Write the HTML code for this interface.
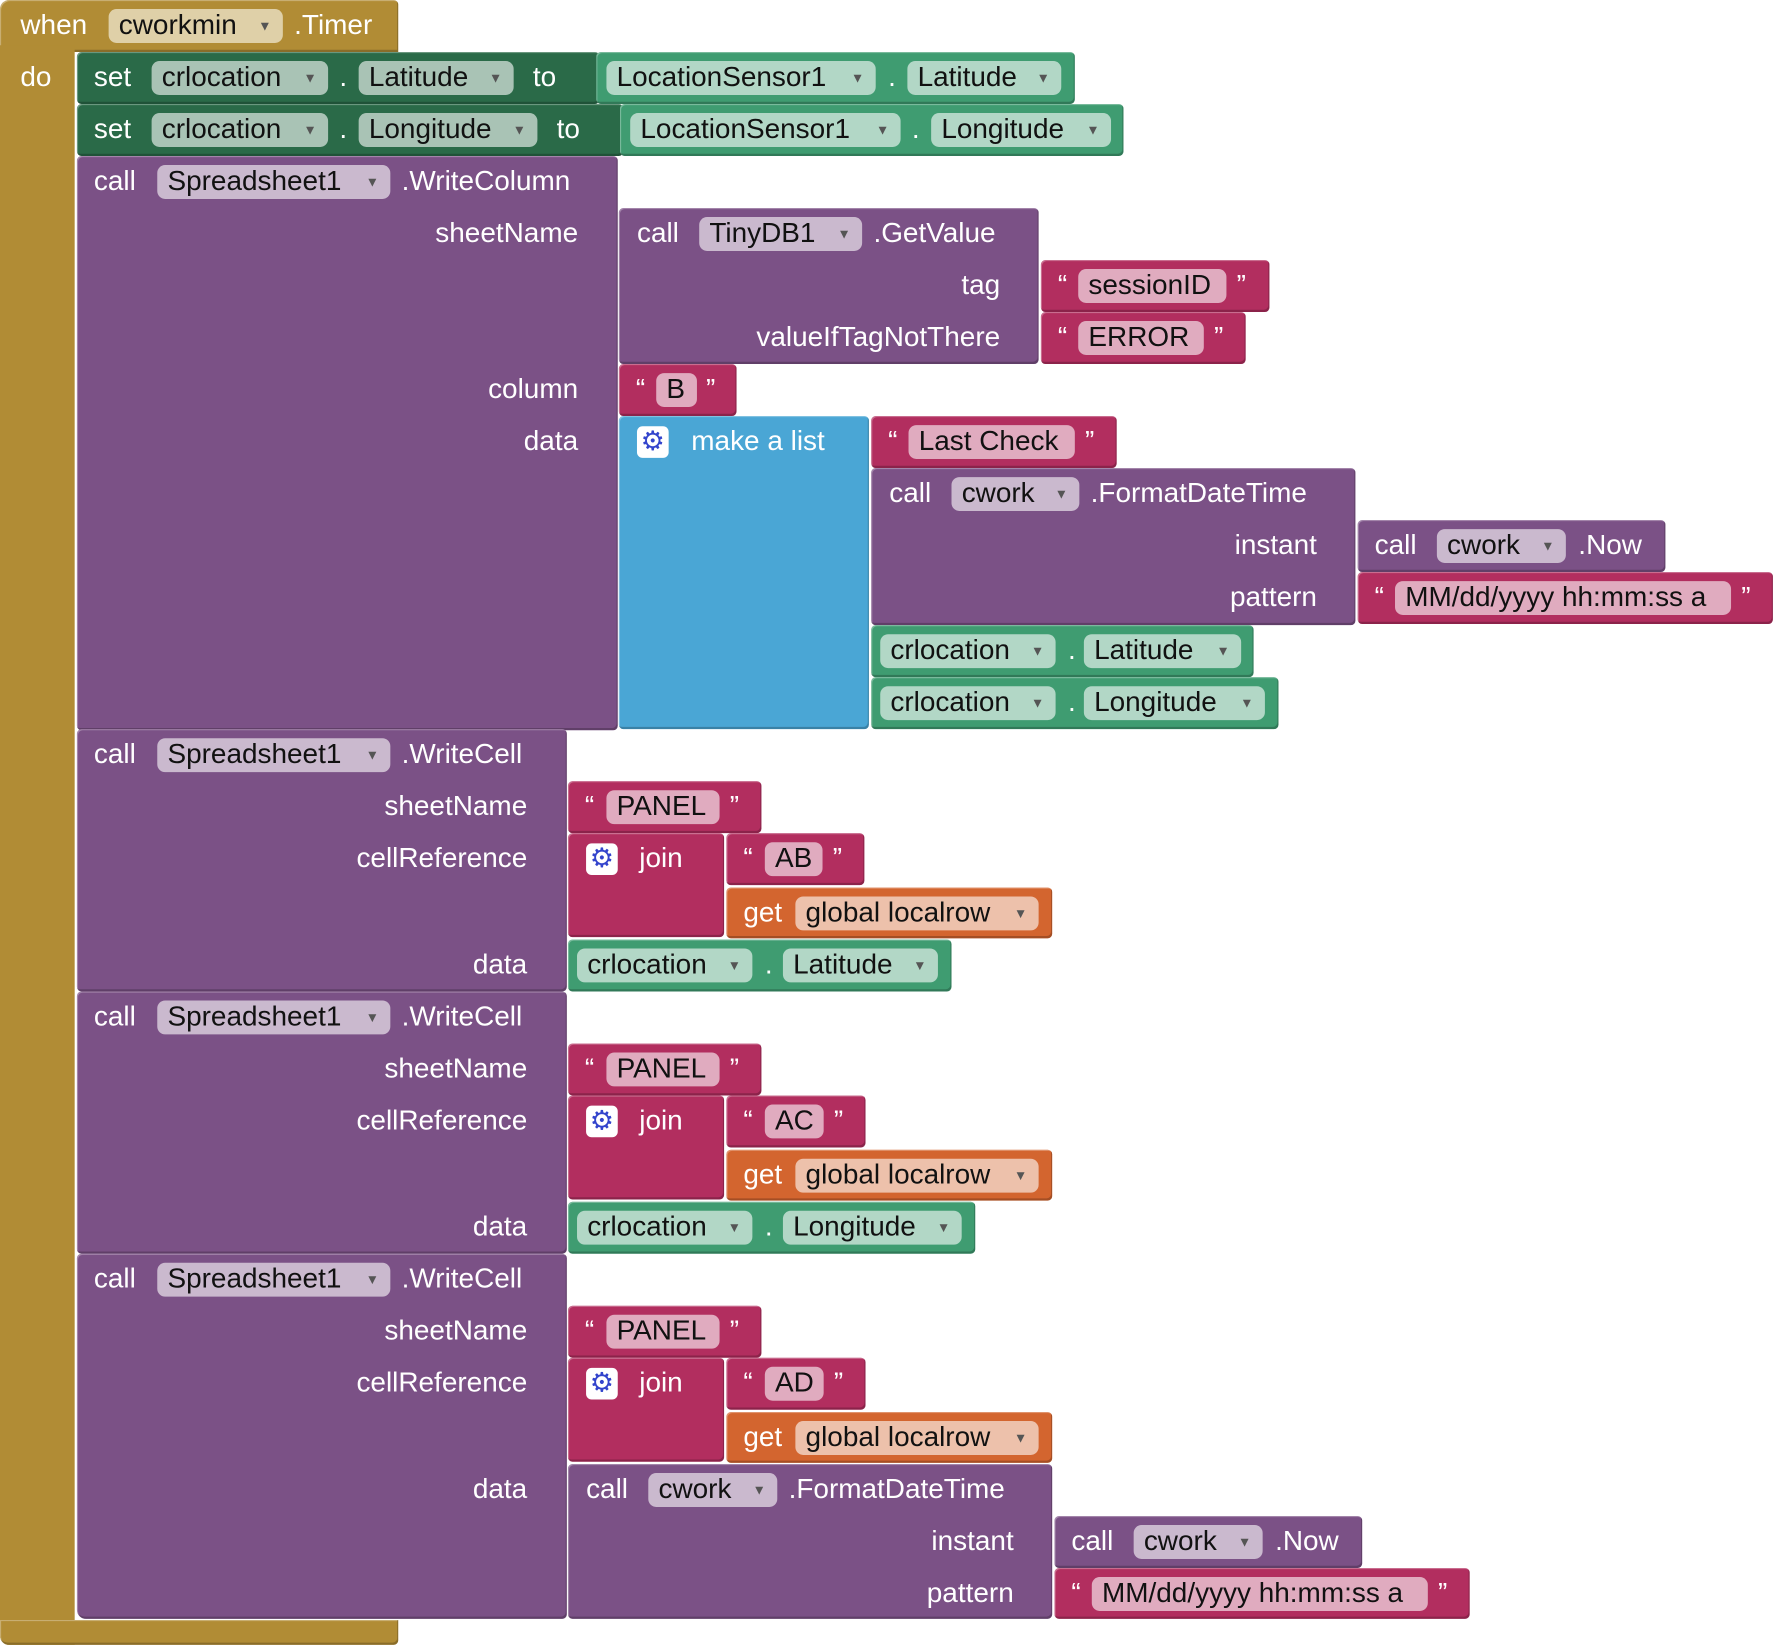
<!DOCTYPE html>
<html><head><meta charset="utf-8"><style>
html,body{margin:0;padding:0;background:#fff;width:1774px;height:1646px;overflow:hidden}
#c{position:absolute;left:0;top:0;width:1568px;height:1456px;transform:scale(1.1314,1.1305);transform-origin:0 0;font-family:"Liberation Sans",sans-serif}
.b{position:absolute;border-radius:4px;box-shadow:inset -1px -2px 0 rgba(0,0,0,.22),inset 1px 1px 0 rgba(255,255,255,.3)}
.t{position:absolute;color:#fff;font-size:24.7px;line-height:46px;height:46px;white-space:nowrap}
.r{text-align:right;width:400px}
.p{position:absolute;height:30px;border-radius:7px;background:rgba(255,255,255,.6);color:#111;font-size:24.7px;line-height:30px;padding-left:9px;box-sizing:border-box;white-space:nowrap}
.p i{position:absolute;right:10px;top:0;font-size:12px;font-style:normal;color:#555}
.g{position:absolute;width:28px;height:28px;border-radius:5px;background:#fff;color:#3344cc;font-size:24px;line-height:28px;text-align:center}
.gold{background:#b18c35}.dg{background:#2a6a48}.lg{background:#3f9c71}.pu{background:#7b5186}.rd{background:#b22e5f}.bl{background:#4aa6d5}.or{background:#d3652f}
</style></head><body><div id="c">
<div class="b gold" style="left:0;top:0;width:352px;height:46px;border-radius:8px 4px 0 0"></div>
<div class="b gold" style="left:0;top:40px;width:66px;height:1415px;border-radius:0 0 0 8px;box-shadow:none"></div>
<div class="b gold" style="left:0;top:1433px;width:352px;height:22px;border-radius:0 0 4px 8px"></div>
<div class="t" style="left:18px;top:0">when</div>
<div class="p" style="left:96px;top:8px;width:154px;background:#dfd0a8">cworkmin<i>▼</i></div>
<div class="t" style="left:260px;top:0">.Timer</div>
<div class="t" style="left:18px;top:46px">do</div>

<div class="b dg" style="left:68px;top:46px;width:462px;height:46px"></div>
<div class="b lg" style="left:527px;top:46px;width:423px;height:46px"></div>
<div class="t" style="left:83px;top:46px">set</div>
<div class="p" style="left:134px;top:54px;width:156px">crlocation<i>▼</i></div>
<div class="t" style="left:300px;top:46px">.</div>
<div class="p" style="left:317px;top:54px;width:137px">Latitude<i>▼</i></div>
<div class="t" style="left:471px;top:46px">to</div>
<div class="p" style="left:536px;top:54px;width:238px">LocationSensor1<i>▼</i></div>
<div class="t" style="left:785px;top:46px">.</div>
<div class="p" style="left:802px;top:54px;width:136px">Latitude<i>▼</i></div>

<div class="b dg" style="left:68px;top:92px;width:483px;height:46px"></div>
<div class="b lg" style="left:548px;top:92px;width:445px;height:46px"></div>
<div class="t" style="left:83px;top:92px">set</div>
<div class="p" style="left:134px;top:100px;width:156px">crlocation<i>▼</i></div>
<div class="t" style="left:300px;top:92px">.</div>
<div class="p" style="left:317px;top:100px;width:158px">Longitude<i>▼</i></div>
<div class="t" style="left:492px;top:92px">to</div>
<div class="p" style="left:557px;top:100px;width:239px">LocationSensor1<i>▼</i></div>
<div class="t" style="left:806px;top:92px">.</div>
<div class="p" style="left:823px;top:100px;width:159px">Longitude<i>▼</i></div>

<div class="b pu" style="left:68px;top:138px;width:478px;height:508px"></div>
<div class="t" style="left:83px;top:138px">call</div>
<div class="p" style="left:139px;top:146px;width:206px">Spreadsheet1<i>▼</i></div>
<div class="t" style="left:355px;top:138px">.WriteColumn</div>
<div class="t r" style="left:111px;top:184px">sheetName</div>
<div class="t r" style="left:111px;top:322px">column</div>
<div class="t r" style="left:111px;top:368px">data</div>

<div class="b pu" style="left:547px;top:184px;width:371px;height:138px"></div>
<div class="t" style="left:563px;top:184px">call</div>
<div class="p" style="left:618px;top:192px;width:144px">TinyDB1<i>▼</i></div>
<div class="t" style="left:772px;top:184px">.GetValue</div>
<div class="t r" style="left:484px;top:230px">tag</div>
<div class="t r" style="left:484px;top:276px">valueIfTagNotThere</div>
<div class="b rd" style="left:920px;top:230px;width:202px;height:46px"></div>
<div class="t" style="left:935px;top:230px">“</div>
<div class="p" style="left:953px;top:238px;width:131px">sessionID</div>
<div class="t" style="left:1093px;top:230px">”</div>
<div class="b rd" style="left:920px;top:276px;width:181px;height:46px"></div>
<div class="t" style="left:935px;top:276px">“</div>
<div class="p" style="left:953px;top:284px;width:111px">ERROR</div>
<div class="t" style="left:1073px;top:276px">”</div>

<div class="b rd" style="left:547px;top:322px;width:104px;height:46px"></div>
<div class="t" style="left:562px;top:322px">“</div>
<div class="p" style="left:580px;top:330px;width:36px">B</div>
<div class="t" style="left:624px;top:322px">”</div>

<div class="b bl" style="left:547px;top:368px;width:221px;height:277px"></div>
<div class="g" style="left:563px;top:377px">⚙</div>
<div class="t" style="left:611px;top:368px">make a list</div>
<div class="b rd" style="left:770px;top:368px;width:217px;height:46px"></div>
<div class="t" style="left:785px;top:368px">“</div>
<div class="p" style="left:803px;top:376px;width:147px">Last Check</div>
<div class="t" style="left:959px;top:368px">”</div>

<div class="b pu" style="left:770px;top:414px;width:428px;height:139px"></div>
<div class="t" style="left:786px;top:414px">call</div>
<div class="p" style="left:841px;top:422px;width:113px">cwork<i>▼</i></div>
<div class="t" style="left:964px;top:414px">.FormatDateTime</div>
<div class="t r" style="left:764px;top:460px">instant</div>
<div class="t r" style="left:764px;top:506px">pattern</div>
<div class="b pu" style="left:1200px;top:460px;width:272px;height:46px"></div>
<div class="t" style="left:1215px;top:460px">call</div>
<div class="p" style="left:1270px;top:468px;width:114px">cwork<i>▼</i></div>
<div class="t" style="left:1395px;top:460px">.Now</div>
<div class="b rd" style="left:1200px;top:506px;width:367px;height:46px"></div>
<div class="t" style="left:1215px;top:506px">“</div>
<div class="p" style="left:1233px;top:514px;width:297px">MM/dd/yyyy hh:mm:ss a</div>
<div class="t" style="left:1539px;top:506px">”</div>

<div class="b lg" style="left:770px;top:553px;width:338px;height:46px"></div>
<div class="p" style="left:778px;top:561px;width:155px">crlocation<i>▼</i></div>
<div class="t" style="left:944px;top:553px">.</div>
<div class="p" style="left:958px;top:561px;width:139px">Latitude<i>▼</i></div>
<div class="b lg" style="left:770px;top:599px;width:360px;height:46px"></div>
<div class="p" style="left:778px;top:607px;width:155px">crlocation<i>▼</i></div>
<div class="t" style="left:944px;top:599px">.</div>
<div class="p" style="left:958px;top:607px;width:160px">Longitude<i>▼</i></div>

<div class="b pu" style="left:68px;top:645px;width:433px;height:232px"></div>
<div class="t" style="left:83px;top:645px">call</div>
<div class="p" style="left:139px;top:653px;width:206px">Spreadsheet1<i>▼</i></div>
<div class="t" style="left:355px;top:645px">.WriteCell</div>
<div class="t r" style="left:66px;top:691px">sheetName</div>
<div class="t r" style="left:66px;top:737px">cellReference</div>
<div class="t r" style="left:66px;top:831px">data</div>
<div class="b rd" style="left:502px;top:691px;width:171px;height:46px"></div>
<div class="t" style="left:517px;top:691px">“</div>
<div class="p" style="left:536px;top:699px;width:100px">PANEL</div>
<div class="t" style="left:645px;top:691px">”</div>
<div class="b rd" style="left:502px;top:737px;width:138px;height:92px"></div>
<div class="g" style="left:518px;top:746px">⚙</div>
<div class="t" style="left:565px;top:737px">join</div>
<div class="b rd" style="left:642px;top:737px;width:122px;height:46px"></div>
<div class="t" style="left:657px;top:737px">“</div>
<div class="p" style="left:676px;top:745px;width:51px">AB</div>
<div class="t" style="left:736px;top:737px">”</div>
<div class="b or" style="left:642px;top:785px;width:288px;height:45px"></div>
<div class="t" style="left:657px;top:785px">get</div>
<div class="p" style="left:703px;top:793px;width:215px">global localrow<i>▼</i></div>
<div class="b lg" style="left:502px;top:831px;width:339px;height:46px"></div>
<div class="p" style="left:510px;top:839px;width:155px">crlocation<i>▼</i></div>
<div class="t" style="left:676px;top:831px">.</div>
<div class="p" style="left:692px;top:839px;width:137px">Latitude<i>▼</i></div>

<div class="b pu" style="left:68px;top:877px;width:433px;height:232px"></div>
<div class="t" style="left:83px;top:877px">call</div>
<div class="p" style="left:139px;top:885px;width:206px">Spreadsheet1<i>▼</i></div>
<div class="t" style="left:355px;top:877px">.WriteCell</div>
<div class="t r" style="left:66px;top:923px">sheetName</div>
<div class="t r" style="left:66px;top:969px">cellReference</div>
<div class="t r" style="left:66px;top:1063px">data</div>
<div class="b rd" style="left:502px;top:923px;width:171px;height:46px"></div>
<div class="t" style="left:517px;top:923px">“</div>
<div class="p" style="left:536px;top:931px;width:100px">PANEL</div>
<div class="t" style="left:645px;top:923px">”</div>
<div class="b rd" style="left:502px;top:969px;width:138px;height:92px"></div>
<div class="g" style="left:518px;top:978px">⚙</div>
<div class="t" style="left:565px;top:969px">join</div>
<div class="b rd" style="left:642px;top:969px;width:123px;height:46px"></div>
<div class="t" style="left:657px;top:969px">“</div>
<div class="p" style="left:676px;top:977px;width:52px">AC</div>
<div class="t" style="left:737px;top:969px">”</div>
<div class="b or" style="left:642px;top:1017px;width:288px;height:45px"></div>
<div class="t" style="left:657px;top:1017px">get</div>
<div class="p" style="left:703px;top:1025px;width:215px">global localrow<i>▼</i></div>
<div class="b lg" style="left:502px;top:1063px;width:360px;height:46px"></div>
<div class="p" style="left:510px;top:1071px;width:155px">crlocation<i>▼</i></div>
<div class="t" style="left:676px;top:1063px">.</div>
<div class="p" style="left:692px;top:1071px;width:158px">Longitude<i>▼</i></div>

<div class="b pu" style="left:68px;top:1109px;width:433px;height:323px;border-radius:4px 4px 4px 8px"></div>
<div class="t" style="left:83px;top:1109px">call</div>
<div class="p" style="left:139px;top:1117px;width:206px">Spreadsheet1<i>▼</i></div>
<div class="t" style="left:355px;top:1109px">.WriteCell</div>
<div class="t r" style="left:66px;top:1155px">sheetName</div>
<div class="t r" style="left:66px;top:1201px">cellReference</div>
<div class="t r" style="left:66px;top:1295px">data</div>
<div class="b rd" style="left:502px;top:1155px;width:171px;height:46px"></div>
<div class="t" style="left:517px;top:1155px">“</div>
<div class="p" style="left:536px;top:1163px;width:100px">PANEL</div>
<div class="t" style="left:645px;top:1155px">”</div>
<div class="b rd" style="left:502px;top:1201px;width:138px;height:92px"></div>
<div class="g" style="left:518px;top:1210px">⚙</div>
<div class="t" style="left:565px;top:1201px">join</div>
<div class="b rd" style="left:642px;top:1201px;width:123px;height:46px"></div>
<div class="t" style="left:657px;top:1201px">“</div>
<div class="p" style="left:676px;top:1209px;width:52px">AD</div>
<div class="t" style="left:737px;top:1201px">”</div>
<div class="b or" style="left:642px;top:1249px;width:288px;height:45px"></div>
<div class="t" style="left:657px;top:1249px">get</div>
<div class="p" style="left:703px;top:1257px;width:215px">global localrow<i>▼</i></div>

<div class="b pu" style="left:502px;top:1295px;width:428px;height:137px"></div>
<div class="t" style="left:518px;top:1295px">call</div>
<div class="p" style="left:573px;top:1303px;width:114px">cwork<i>▼</i></div>
<div class="t" style="left:697px;top:1295px">.FormatDateTime</div>
<div class="t r" style="left:496px;top:1341px">instant</div>
<div class="t r" style="left:496px;top:1387px">pattern</div>
<div class="b pu" style="left:932px;top:1341px;width:272px;height:46px"></div>
<div class="t" style="left:947px;top:1341px">call</div>
<div class="p" style="left:1002px;top:1349px;width:114px">cwork<i>▼</i></div>
<div class="t" style="left:1127px;top:1341px">.Now</div>
<div class="b rd" style="left:932px;top:1387px;width:367px;height:45px"></div>
<div class="t" style="left:947px;top:1387px">“</div>
<div class="p" style="left:965px;top:1395px;width:297px">MM/dd/yyyy hh:mm:ss a</div>
<div class="t" style="left:1271px;top:1387px">”</div>
</div></body></html>
